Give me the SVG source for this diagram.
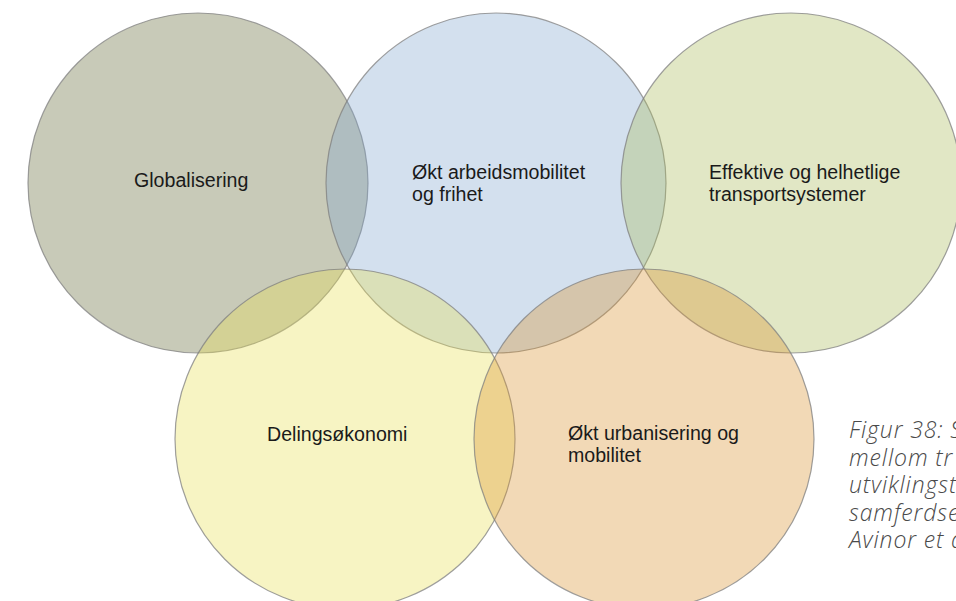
<svg xmlns="http://www.w3.org/2000/svg" width="956" height="601" viewBox="0 0 956 601">
  <style>
    .ring { stroke: #7f7f7f; stroke-width: 1.2; stroke-opacity: 0.75; fill-opacity: 0.35; }
    .label { font-family: "Liberation Sans", Arial, sans-serif; font-size: 19.6px; fill: #1a1a1a; }
    .caption { font-family: "Open Sans", "Noto Sans", sans-serif; font-style: italic; font-weight: 300; font-size: 23px; letter-spacing: 0.9px; fill: #4a4a4a; }
  </style>
  <rect width="956" height="601" fill="#ffffff"/>

  <!-- five overlapping theme circles, translucent so the overlaps darken -->
  <g id="node-globalisering">
    <circle class="ring" cx="198" cy="183" r="170" fill="#626834"/>
    <text class="label" x="134" y="187">Globalisering</text>
  </g>
  <g id="node-arbeidsmobilitet">
    <circle class="ring" cx="496" cy="183" r="170" fill="#81a6ce"/>
    <text class="label" x="412" y="179">Økt arbeidsmobilitet</text>
    <text class="label" x="412" y="201">og frihet</text>
  </g>
  <g id="node-transportsystemer">
    <circle class="ring" cx="791" cy="183" r="170" fill="#a9ba59"/>
    <text class="label" x="709" y="179">Effektive og helhetlige</text>
    <text class="label" x="709" y="201">transportsystemer</text>
  </g>
  <g id="node-delingsokonomi">
    <circle class="ring" cx="345" cy="439" r="170" fill="#e8e054"/>
    <text class="label" x="267" y="441">Delingsøkonomi</text>
  </g>
  <g id="node-urbanisering">
    <circle class="ring" cx="644" cy="439" r="170" fill="#da922e"/>
    <text class="label" x="568" y="440">Økt urbanisering og</text>
    <text class="label" x="568" y="462">mobilitet</text>
  </g>

  <g id="connectors"></g>

  <!-- figure caption, running past the right edge -->
  <g id="caption">
    <text class="caption" x="849" y="438">Figur 38: S</text>
    <text class="caption" x="849" y="465.5">mellom tr</text>
    <text class="caption" x="849" y="493">utviklingst</text>
    <text class="caption" x="849" y="520.5">samferdse</text>
    <text class="caption" x="849" y="548">Avinor et a</text>
  </g>
</svg>
